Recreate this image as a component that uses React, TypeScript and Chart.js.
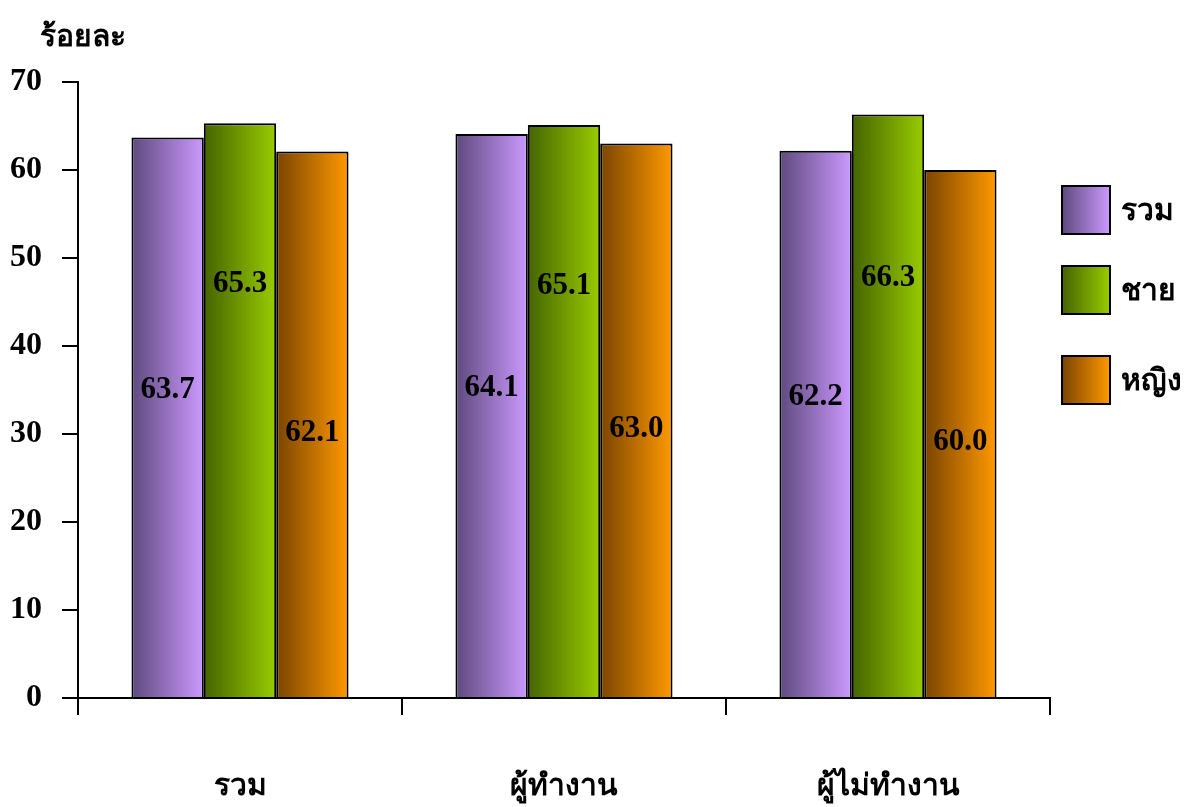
import React, { useEffect, useRef } from "react";
import { Chart, registerables } from "chart.js";

Chart.register(...registerables);

const categories = ["รวม", "ผู้ทำงาน", "ผู้ไม่ทำงาน"];
const seriesNames = ["รวม", "ชาย", "หญิง"];
const totalValues = [63.7, 64.1, 62.2];
const maleValues = [65.3, 65.1, 66.3];
const femaleValues = [62.1, 63.0, 60.0];
const yTicks = [0, 10, 20, 30, 40, 50, 60, 70];
const yTitle = "ร้อยละ";

const gradStops = [
  ["#5e4a7e", "#cc99ff"],
  ["#456400", "#99cc00"],
  ["#7a4400", "#ff9900"],
];
const labelFrac = [0.55, 0.72, 0.485];

const SERIF = '"Liberation Serif", "Times New Roman", serif';

const gradientPlugin = {
  id: "gradBars",
  beforeDatasetsDraw(chart: any) {
    const ctx = chart.ctx;
    chart.data.datasets.forEach((ds: any, di: number) => {
      const meta = chart.getDatasetMeta(di);
      meta.data.forEach((bar: any) => {
        const x0 = bar.x - bar.width / 2;
        const g = ctx.createLinearGradient(x0, 0, x0 + bar.width, 0);
        g.addColorStop(0, gradStops[di][0]);
        g.addColorStop(1, gradStops[di][1]);
        bar.options = Object.assign({}, bar.options, { backgroundColor: g });
      });
    });
  },
};

const extrasPlugin = {
  id: "extras",
  afterDraw(chart: any) {
    const ctx = chart.ctx;
    const ys = chart.scales.y;
    ctx.save();
    ctx.fillStyle = "#000";
    ctx.font = `bold 31px ${SERIF}`;
    ctx.textAlign = "center";
    ctx.textBaseline = "middle";
    chart.data.datasets.forEach((ds: any, di: number) => {
      const meta = chart.getDatasetMeta(di);
      meta.data.forEach((bar: any, i: number) => {
        const v = ds.data[i];
        const y = ys.getPixelForValue(v * labelFrac[di]);
        ctx.fillText(v.toFixed(1), bar.x, y);
      });
    });
    ctx.textAlign = "left";
    ctx.font = `bold 30px ${SERIF}`;
    ctx.fillText(yTitle, 40, 38);
    const boxTops = [186, 266, 356];
    seriesNames.forEach((name, i) => {
      const x = 1062, y = boxTops[i], w = 48, h = 48;
      const g = ctx.createLinearGradient(x, 0, x + w, 0);
      g.addColorStop(0, gradStops[i][0]);
      g.addColorStop(1, gradStops[i][1]);
      ctx.fillStyle = g;
      ctx.fillRect(x, y, w, h);
      ctx.strokeStyle = "#000";
      ctx.lineWidth = 2;
      ctx.strokeRect(x, y, w, h);
      ctx.fillStyle = "#000";
      ctx.font = `bold 30px ${SERIF}`;
      ctx.textAlign = "left";
      ctx.textBaseline = "middle";
      ctx.fillText(name, 1121, y + h / 2 + 2);
    });
    ctx.restore();
  },
};

export default function App() {
  const ref = useRef<HTMLCanvasElement>(null);
  useEffect(() => {
    document.body.style.margin = "0";
    const chart = new Chart(ref.current!, {
      type: "bar",
      data: {
        labels: categories,
        datasets: [totalValues, maleValues, femaleValues].map((d, i) => ({
          label: seriesNames[i],
          data: d,
          backgroundColor: () => gradStops[i][1],
          borderColor: "#000",
          borderWidth: 2,
          borderSkipped: "bottom",
          categoryPercentage: 0.67,
          barPercentage: 1.0,
        })),
      },
      options: {
        responsive: false,
        animation: false,
        devicePixelRatio: 1,
        layout: { padding: { top: 82, right: 143, left: 0, bottom: 0 } },
        plugins: { legend: { display: false }, tooltip: { enabled: false }, title: { display: false } },
        scales: {
          x: {
            grid: { display: true, drawOnChartArea: false, color: "#000", lineWidth: 2, tickLength: 17, offset: true },
            border: { display: true, color: "#000", width: 2 },
            ticks: { color: "#000", font: { family: SERIF, size: 30, weight: "bold" }, padding: 54 },
            afterFit(scale: any) { scale.height = 109; },
          },
          y: {
            min: 0,
            max: 70,
            afterBuildTicks(scale: any) { scale.ticks = yTicks.map((v) => ({ value: v })); },
            grid: { display: true, drawOnChartArea: false, color: "#000", lineWidth: 2, tickLength: 16 },
            border: { display: true, color: "#000", width: 2 },
            ticks: { color: "#000", font: { family: SERIF, size: 32, weight: "bold" }, padding: 20 },
            afterFit(scale: any) { scale.width = 78; },
          },
        },
      },
      plugins: [gradientPlugin, extrasPlugin],
    });
    return () => chart.destroy();
  }, []);
  return (
    <div style={{ width: 1193, height: 807 }}>
      <canvas ref={ref} width={1193} height={807} style={{ display: "block" }} />
    </div>
  );
}
